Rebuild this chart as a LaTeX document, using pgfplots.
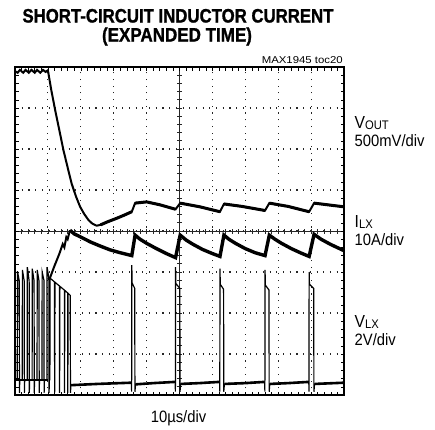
\documentclass[border=0pt]{standalone}
\usepackage{fontspec}
\setmainfont{Liberation Sans}
\newfontfamily\cond[FakeStretch=0.9]{Liberation Sans}
\newfontfamily\titlefont[FakeBold=1.2]{Liberation Sans Bold}
\usepackage{pgfplots}
\pgfplotsset{compat=1.18}
\begin{document}
\begin{tikzpicture}[x=1bp,y=1bp]
\useasboundingbox (-15,-34) rectangle (420,395);
% centre cross-hair with ticks
\begin{axis}[at={(0,0)}, anchor=south west, scale only axis, width=329bp, height=328bp,
  xmin=-5, xmax=5, ymin=-4, ymax=4, axis lines=middle,
  axis line style={-, black!85, line width=0.8bp},
  xtick={-4.8,-4.6,...,4.8}, ytick={-3.8,-3.6,...,3.8},
  xticklabels={}, yticklabels={}, tick align=center,
  major tick length=5bp, tick style={black!85, line width=0.7bp}]
\end{axis}
% main scope screen
\begin{axis}[at={(0,0)}, anchor=south west, scale only axis, width=329bp, height=328bp,
  xmin=0, xmax=10, ymin=0, ymax=8,
  xtick={0,...,10}, ytick={0,...,8}, minor x tick num=4, minor y tick num=4,
  xticklabels={}, yticklabels={}, tick align=inside,
  major tick length=3.5bp, minor tick length=3.5bp, tick style={black, line width=0.6bp},
  grid=major, major grid style={black!85, line width=1.1bp, dash pattern=on 1.1bp off 5.6bp},
  axis line style={line width=2.4bp}, unbounded coords=jump]
% V_OUT
\addplot[black, line width=2.0bp] coordinates {
(0,7.9)(0.08,7.86)(0.15,7.93)(0.25,7.86)(0.32,7.93)(0.42,7.86)(0.5,7.93)(0.6,7.86)
(0.67,7.93)(0.77,7.86)(0.85,7.93)(0.93,7.88)(1.0,7.92)(1.1,7.45)(1.22,6.95)(1.35,6.45)
(1.47,5.98)(1.6,5.55)(1.72,5.16)(1.85,4.85)(1.98,4.59)(2.1,4.42)(2.23,4.27)(2.35,4.18)
(2.48,4.13)(2.6,4.15)(2.8,4.22)(3.09,4.31)(3.3,4.38)(3.55,4.47)(3.65,4.68)(4.0,4.71)
(4.4,4.64)(4.88,4.53)(5.02,4.68)(5.62,4.59)(6.23,4.47)(6.35,4.66)(6.9,4.6)(7.6,4.5)
(7.73,4.68)(8.3,4.6)(8.94,4.47)(9.09,4.68)(10,4.59)};
\addplot[black, line width=3.0bp] coordinates {
(2.6,4.15)(2.8,4.22)(3.09,4.31)(3.3,4.38)(3.55,4.47)(3.55,nan)
(3.65,4.68)(4.0,4.71)(4.4,4.64)(4.88,4.53)(4.88,nan)
(5.02,4.68)(5.62,4.59)(6.23,4.47)(6.23,nan)
(6.35,4.66)(6.9,4.6)(7.6,4.5)(7.6,nan)
(7.73,4.68)(8.3,4.6)(8.94,4.47)(8.94,nan)
(9.09,4.68)(10,4.59)};
% I_LX
\addplot[black, line width=2.0bp] coordinates {
(1.0,2.82)(1.06,2.85)(1.2,3.15)(1.35,3.45)(1.45,3.68)(1.5,3.6)(1.56,3.85)(1.6,3.8)
(1.67,4.02)};
\addplot[black, line width=3.4bp] coordinates {
(1.67,4.02)(1.8,3.93)(1.98,3.86)(2.3,3.73)(2.6,3.63)(2.89,3.54)(3.2,3.47)(3.55,3.40)
(3.65,3.9)(3.8,3.8)(4.0,3.7)(4.3,3.57)(4.6,3.45)(4.88,3.35)(5.02,3.9)(5.2,3.78)
(5.4,3.68)(5.7,3.55)(6.0,3.45)(6.23,3.38)(6.35,3.9)(6.5,3.8)(6.7,3.7)(7.0,3.57)
(7.3,3.47)(7.6,3.4)(7.73,3.9)(7.9,3.8)(8.1,3.7)(8.4,3.57)(8.7,3.46)(8.94,3.38)
(9.09,3.92)(9.3,3.8)(9.6,3.67)(10,3.52)};
% V_LX (switching node)
\addplot[black, line width=1.2bp] coordinates {
(0,0.37)
(0.07,0.37)(0.075,3.02)(0.13,2.78)(0.135,0.05)(0.145,0.37)
(0.22,0.37)(0.225,3.05)(0.28,2.78)(0.285,0.05)(0.295,0.37)
(0.37,0.37)(0.375,3.12)(0.43,2.78)(0.435,0.05)(0.445,0.37)
(0.52,0.37)(0.525,3.08)(0.58,2.78)(0.585,0.05)(0.595,0.37)
(0.67,0.37)(0.675,3.05)(0.73,2.78)(0.735,0.05)(0.745,0.37)
(0.82,0.37)(0.825,3.0)(0.88,2.8)(0.885,0.05)(0.895,0.37)
(0.97,0.37)(0.975,3.12)(1.03,2.85)(1.035,0.05)(1.045,0.37)
(1.06,0.37)(1.065,2.85)
(1.2,2.76)(1.205,0.05)(1.215,2.75)
(1.35,2.66)(1.355,0.05)(1.365,2.65)
(1.5,2.56)(1.505,0.05)(1.515,2.55)
(1.6,2.49)(1.605,0.05)(1.615,2.48)
(1.68,2.43)(1.685,0.05)(1.7,0.24)
(2.5,0.27)(3.5,0.3)
(3.54,0.3)(3.545,0.08)(3.55,3.17)(3.56,2.73)(3.64,2.6)(3.645,0.08)(3.665,0.26)
(4.87,0.32)(4.875,0.08)(4.88,3.12)(4.89,2.72)(5.01,2.6)(5.015,0.08)(5.035,0.27)
(6.22,0.32)(6.225,0.08)(6.23,3.08)(6.24,2.7)(6.34,2.58)(6.345,0.08)(6.365,0.27)
(7.59,0.32)(7.595,0.08)(7.6,3.05)(7.61,2.68)(7.72,2.56)(7.725,0.08)(7.745,0.27)
(8.93,0.32)(8.935,0.08)(8.94,3.0)(8.95,2.7)(9.08,2.6)(9.085,0.08)(9.105,0.27)
(10,0.3)};
% thick low level of V_LX
\addplot[black, line width=2.6bp] coordinates {
(1.7,0.24)(2.5,0.27)(3.53,0.3)(3.53,nan)
(3.67,0.26)(4.2,0.29)(4.87,0.32)(4.87,nan)
(5.04,0.27)(5.6,0.29)(6.22,0.32)(6.22,nan)
(6.37,0.27)(7.0,0.29)(7.59,0.32)(7.59,nan)
(7.75,0.27)(8.3,0.29)(8.93,0.32)(8.93,nan)
(9.11,0.27)(10,0.3)};
\addplot[black, line width=1.8bp] coordinates {(0.0,0.37)(1.0,0.37)};
\end{axis}
% texts
\node[anchor=base, inner sep=0] at (163,372.5) {\resizebox{311bp}{\height}{\titlefont\fontsize{19.5}{22}\selectfont SHORT-CIRCUIT INDUCTOR CURRENT}};
\node[anchor=base, inner sep=0] at (162,353.5) {\resizebox{150bp}{\height}{\titlefont\fontsize{19.5}{22}\selectfont (EXPANDED TIME)}};
\node[anchor=base east, inner sep=0] at (328,332) {\resizebox{81bp}{\height}{\fontsize{10}{12}\selectfont MAX1945 toc20}};
\node[anchor=base west, inner sep=0] at (339.5,266.7) {\cond\fontsize{17.5}{20}\selectfont V\raisebox{-1bp}{\fontsize{12.5}{14}\selectfont OUT}};
\node[anchor=base west, inner sep=0] at (339.5,248.3) {\cond\fontsize{16.5}{20}\selectfont 500mV/div};
\node[anchor=base west, inner sep=0] at (339.5,167.3) {\cond\fontsize{17.5}{20}\selectfont I\raisebox{-1bp}{\fontsize{12.5}{14}\selectfont LX}};
\node[anchor=base west, inner sep=0] at (339.5,149.3) {\cond\fontsize{16.5}{20}\selectfont 10A/div};
\node[anchor=base west, inner sep=0] at (339.5,67.3) {\cond\fontsize{17.5}{20}\selectfont V\raisebox{-1bp}{\fontsize{12.5}{14}\selectfont LX}};
\node[anchor=base west, inner sep=0] at (339.5,49.3) {\cond\fontsize{16.5}{20}\selectfont 2V/div};
\node[anchor=base, inner sep=0] at (163.5,-27.7) {\cond\fontsize{16.5}{20}\selectfont 10µs/div};
\end{tikzpicture}
\end{document}
